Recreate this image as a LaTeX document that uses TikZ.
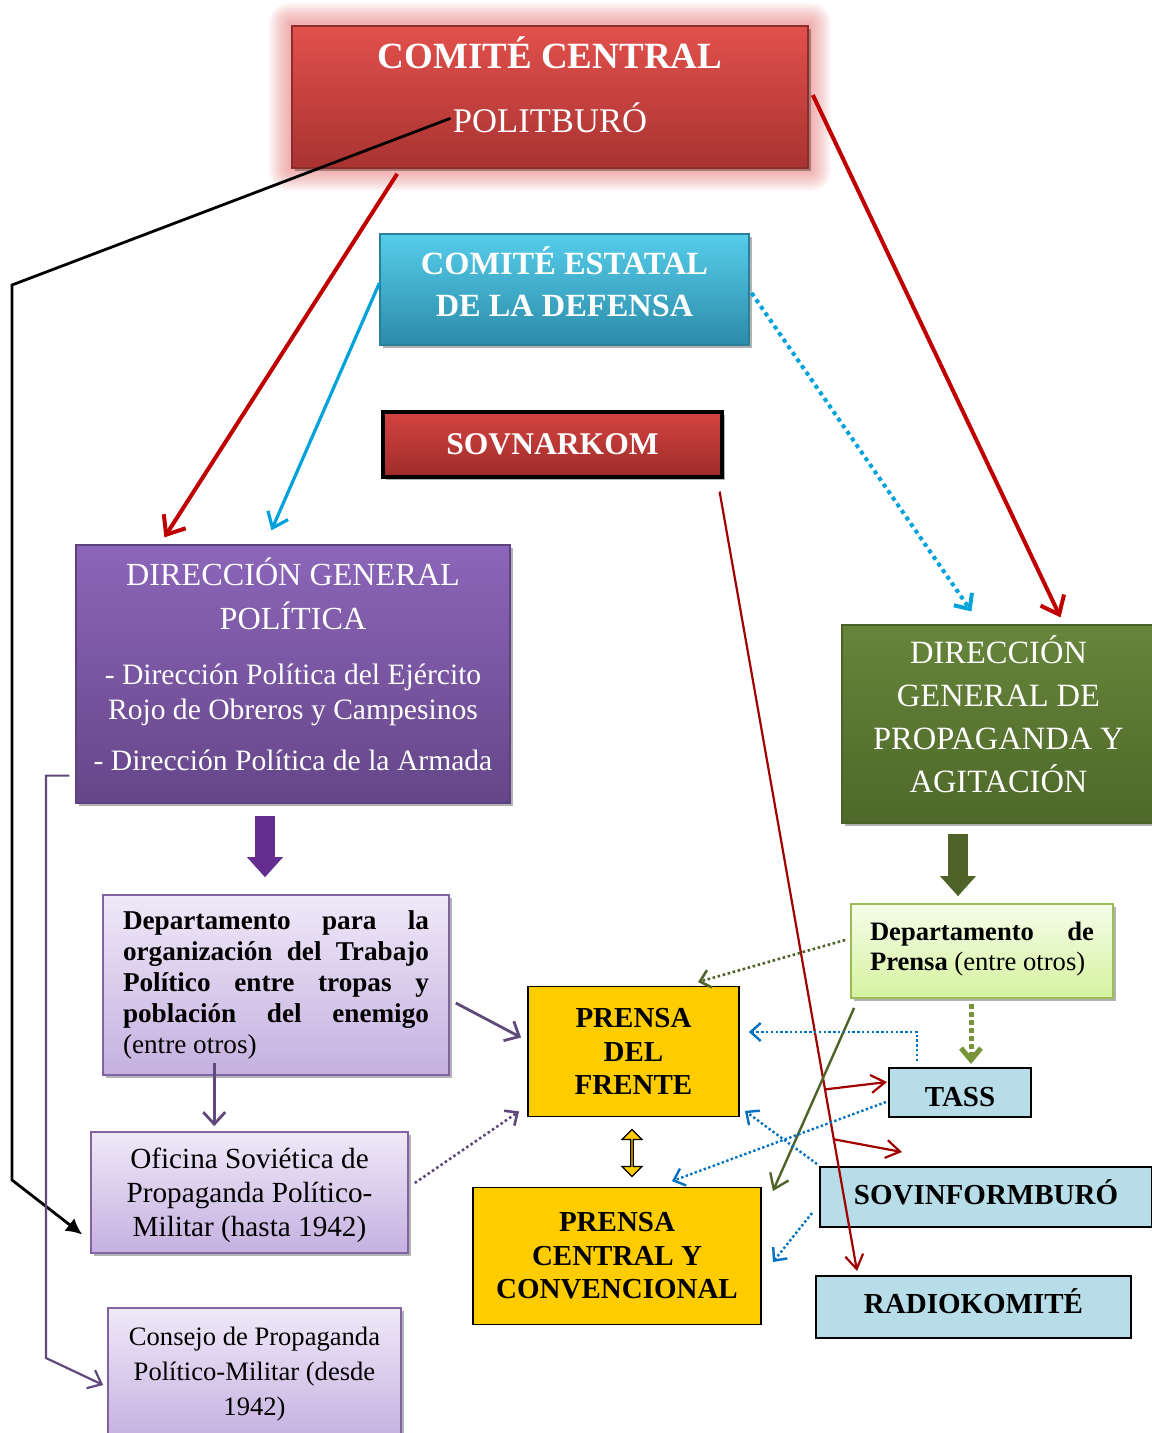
\documentclass[tikz,border=0pt]{standalone}
\usepackage{fontspec}
\setmainfont{Liberation Serif}
\usetikzlibrary{arrows.meta,shadows,shapes.arrows,calc,backgrounds}

\definecolor{cctop}{HTML}{E2504C}
\definecolor{ccbot}{HTML}{A83331}
\definecolor{ccline}{HTML}{8C2D2B}
\definecolor{ccglow}{HTML}{E06060}
\definecolor{cedtop}{HTML}{55CDEB}
\definecolor{cedbot}{HTML}{2C8BA8}
\definecolor{cedline}{HTML}{2A7F99}
\definecolor{sovtop}{HTML}{D4433F}
\definecolor{sovbot}{HTML}{9E2C2A}
\definecolor{dgptop}{HTML}{8C66BA}
\definecolor{dgpbot}{HTML}{654688}
\definecolor{dgpline}{HTML}{5E4280}
\definecolor{dgpatop}{HTML}{67853B}
\definecolor{dgpabot}{HTML}{4E6829}
\definecolor{dgpaline}{HTML}{4A6226}
\definecolor{liltop}{HTML}{EFE9F8}
\definecolor{lilbot}{HTML}{C5B0E0}
\definecolor{lilline}{HTML}{8064A2}
\definecolor{dprtop}{HTML}{F5FDEA}
\definecolor{dprbot}{HTML}{D5F29E}
\definecolor{dprline}{HTML}{9BBB59}
\definecolor{gold}{HTML}{FFCC00}
\definecolor{lblue}{HTML}{B7DDE8}
\definecolor{arrred}{HTML}{C00000}
\definecolor{darkred}{HTML}{A00000}
\definecolor{cyanline}{HTML}{00A2DC}
\definecolor{blockpurp}{HTML}{662D91}
\definecolor{purpline}{HTML}{5F497A}
\definecolor{olive}{HTML}{4F6228}
\definecolor{lolive}{HTML}{77933C}
\definecolor{bluedot}{HTML}{0070C0}

\newcommand{\setfs}[2]{\fontsize{#1}{#2}\selectfont}

\begin{document}
\begin{tikzpicture}[x=0.5pt,y=-0.5pt,
    boxshadow/.style={drop shadow={shadow xshift=1.5pt,shadow yshift=-1.5pt,opacity=.3,fill=black}},
    ccbox/.style={boxshadow,draw=ccline,line width=0.8pt,top color=cctop,bottom color=ccbot,minimum width=258pt,minimum height=71pt},
    cctext/.style={text=white,anchor=base,inner sep=1pt},
    cedbox/.style={boxshadow,draw=cedline,line width=0.6pt,top color=cedtop,bottom color=cedbot,minimum width=184.5pt,minimum height=55.5pt,text=white,text width=180pt,inner sep=0pt,align=flush center,font={\setfs{16.2}{21}\bfseries}},
    sovbox/.style={boxshadow,draw=black,line width=1.6pt,top color=sovtop,bottom color=sovbot,minimum width=169.5pt,minimum height=32.5pt,text=white,font={\setfs{15.8}{19}\bfseries}},
    dgpbox/.style={boxshadow,draw=dgpline,line width=0.6pt,top color=dgptop,bottom color=dgpbot,minimum width=217pt,minimum height=129pt,text=white,text width=214pt,align=flush center,inner sep=0pt},
    dgpabox/.style={boxshadow,draw=dgpaline,line width=0.6pt,top color=dgpatop,bottom color=dgpabot,minimum width=156.5pt,minimum height=99pt,text=white,text width=154pt,inner sep=0pt,align=flush center,font={\setfs{16.25}{21.5}}},
    lilbox/.style={boxshadow,draw=lilline,line width=0.8pt,top color=liltop,bottom color=lilbot,inner sep=0pt},
    dprbox/.style={boxshadow,draw=dprline,line width=0.9pt,top color=dprtop,bottom color=dprbot,inner sep=0pt},
    goldbox/.style={draw=black,line width=0.9pt,fill=gold,align=center,font={\setfs{14.5}{16.75}\bfseries}},
    bluebox/.style={draw=black,line width=1pt,fill=lblue,font={\setfs{14.5}{17}\bfseries}},
    redarrow/.style={draw=arrred,line width=2pt,-{Straight Barb[length=8pt,width=13pt]}},
    cyanarrow/.style={draw=cyanline,line width=1.6pt,-{Straight Barb[length=7pt,width=11pt]}},
    cyandots/.style={draw=cyanline,line width=2pt,dash pattern=on 2pt off 2pt,-{Straight Barb[length=6pt,width=11pt]}},
    thinred/.style={draw=darkred,line width=1.1pt,-{Straight Barb[length=7pt,width=9pt]}},
    purpleline/.style={draw=purpline,line width=1.1pt,-{Straight Barb[length=6pt,width=10pt]}},
    purplearrow/.style={draw=purpline,line width=1.4pt,-{Straight Barb[length=6pt,width=11pt]}},
    purpledots/.style={draw=purpline,line width=1.3pt,dash pattern=on 1.3pt off 1.3pt,-{Straight Barb[length=5pt,width=9pt]}},
    olivedots/.style={draw=olive,line width=1.3pt,dash pattern=on 1.3pt off 1.3pt,-{Straight Barb[length=5pt,width=9pt]}},
    olivebig/.style={draw=lolive,line width=2.5pt,dash pattern=on 2.5pt off 1.5pt,-{Straight Barb[length=6pt,width=10pt]}},
    oliveline/.style={draw=olive,line width=1.2pt,-{Straight Barb[length=7pt,width=10pt]}},
    bluedots/.style={draw=bluedot,line width=1.2pt,dash pattern=on 1.2pt off 1.2pt,-{Straight Barb[length=5pt,width=9pt]}},
    blockarrow/.style={line width=10pt,-{Triangle[length=10pt,width=18pt,line width=0pt]}}
]
\useasboundingbox (0,0) rectangle (1151,1433);

% upper level
\node[ccbox] (cc) at (550,97) {};
\node[cctext,font={\setfs{18.5}{20}\bfseries}] (cct) at (550,69) {COMITÉ CENTRAL};
\node[cctext,font={\setfs{17.3}{20}}] (pb) at (550,133) {POLITBURÓ};
\begin{scope}[on background layer]
\foreach \g in {1,...,10}
  \fill[ccglow,opacity=0.065,rounded corners=\g pt] ([shift={({-1.1pt*\g},{1.1pt*\g})}]cc.north west) rectangle ([shift={({1.1pt*\g},{-1.1pt*\g})}]cc.south east);
\end{scope}

\node[cedbox] (ced) at (564.5,289.5) {COMITÉ ESTATAL\\DE LA DEFENSA\par\kern8pt};
\node[sovbox] (sov) at (552.5,444.5) {SOVNARKOM};

\node[dgpbox] (dgp) at (293,674) {{\setfs{16.1}{22}DIRECCIÓN GENERAL\\POLÍTICA\par}\vskip10pt
  {\setfs{14.8}{17.5}- Dirección Política del Ejército\\Rojo de Obreros y Campesinos\par}\vskip8pt
  {\setfs{14.8}{17.5}- Dirección Política de la Armada\par}\kern10pt};
\node[dgpabox] (dgpa) at (998.5,724) {DIRECCIÓN\\GENERAL DE\\PROPAGANDA Y\\AGITACIÓN\par\kern10pt};

% departments
\node[lilbox,minimum width=173pt,minimum height=90pt,text width=153pt,align=justify,font={\setfs{13.6}{15.5}}] (dpt) at (276,985)
  {\textbf{Departamento para la\linebreak organización del Trabajo\linebreak Político entre tropas y\linebreak población del enemigo} (entre otros)\par};
\node[dprbox,minimum width=131pt,minimum height=47pt,text width=112pt,align=justify,font={\setfs{13.3}{15}}] (dpr) at (982,951)
  {\textbf{Departamento de\linebreak Prensa} (entre otros)\par\kern2pt};
\node[lilbox,minimum width=158.5pt,minimum height=60.5pt,text width=156pt,align=flush center,font={\setfs{14.6}{17}}] (osp) at (249.5,1192.5)
  {Oficina Soviética de\\Propaganda Político-\\Militar (hasta 1942)\par\kern-3pt};
\node[lilbox,minimum width=146.5pt,minimum height=66pt,align=center,font={\setfs{13.3}{17.5}}] (cpm) at (254.5,1374)
  {Consejo de Propaganda\\Político-Militar (desde\\1942)};

% press
\node[goldbox,minimum width=105.5pt,minimum height=65pt] (pf) at (633.5,1051.5) {PRENSA\\DEL\\FRENTE};
\node[goldbox,minimum width=144pt,minimum height=68.5pt] (pcc) at (617,1256) {PRENSA\\CENTRAL Y\\CONVENCIONAL};
\node[double arrow,draw=black,line width=0.6pt,fill=gold,shape border rotate=90,minimum height=23.5pt,minimum width=10pt,inner sep=0pt,double arrow head extend=2pt] (dbl) at (632,1153) {};

\node[bluebox,minimum width=71pt,minimum height=24.5pt,text height=14pt,text depth=0pt] (tass) at (960,1092.5) {TASS};
\node[bluebox,minimum width=166pt,minimum height=30pt,text height=10pt,text depth=2.4pt] (sib) at (986,1197) {SOVINFORMBURÓ};
\node[bluebox,minimum width=157.5pt,minimum height=31pt,text height=9.5pt,text depth=3pt] (rad) at (973.5,1307) {RADIOKOMITÉ};

% connectors
\draw[redarrow] ([xshift=53pt,yshift=-2.5pt]cc.south west) -- ([xshift=44.5pt,yshift=3.5pt]dgp.north west);
\draw[redarrow] ([xshift=2pt,yshift=1pt]cc.east) -- ([xshift=31pt,yshift=3.5pt]dgpa.north);
\draw[cyanarrow] ([yshift=3.25pt]ced.west) -- ([xshift=98pt,yshift=7pt]dgp.north west);
\draw[cyandots] ([xshift=1pt,yshift=-1.75pt]ced.east) -- ([xshift=65pt,yshift=6.5pt]dgpa.north west);

\coordinate (bk1) at (12,285);
\coordinate (bk2) at (12,1180);
\draw[line width=1.4pt,-{Latex[length=8pt,width=8pt]}] (pb.west) -- (bk1) -- (bk2) -- ([xshift=-4pt,yshift=-21pt]osp.west);

\coordinate (sv1) at ([xshift=-2pt,yshift=-6.5pt]sov.south east);
\coordinate (rd1) at ([xshift=21pt,yshift=2pt]rad.north west);
\draw[thinred] (sv1) -- (rd1);
\draw[thinred] ($(sv1)!0.767!(rd1)$) -- ([xshift=-0.5pt,yshift=5.25pt]tass.west);
\draw[thinred] ($(sv1)!0.831!(rd1)$) -- ([xshift=41.5pt,yshift=7pt]sib.north west);

\coordinate (pl1) at (46,1358);
\draw[purpleline] ([xshift=-3pt,yshift=14pt]dgp.south west) -| (pl1) -- ([xshift=-2pt,yshift=-5.5pt]cpm.west);
\draw[purplearrow] ([xshift=56pt,yshift=6.5pt]dpt.south west) -- ([xshift=62pt,yshift=2.5pt]osp.north west);
\draw[purplearrow] ([xshift=3pt,yshift=-9pt]dpt.east) -- ([xshift=-3pt,yshift=7pt]pf.west);
\draw[purpledots] ([xshift=3pt,yshift=4.75pt]osp.east) -- ([xshift=-4pt,yshift=3pt]pf.south west);

\draw[blockarrow,blockpurp] ([xshift=-14pt,yshift=-6pt]dgp.south) -- ([xshift=-5.5pt,yshift=8.5pt]dpt.north);
\draw[blockarrow,olive] ([xshift=-20.25pt,yshift=-5pt]dgpa.south) -- ([xshift=-12pt,yshift=3.5pt]dpr.north);

\draw[olivedots] ([xshift=-2.5pt,yshift=5.5pt]dpr.west) -- ([xshift=32.25pt,yshift=1.75pt]pf.north);
\draw[olivebig] ([xshift=-5.5pt,yshift=-2.5pt]dpr.south) -- ([xshift=5.5pt,yshift=1.5pt]tass.north);
\draw[oliveline] ([xshift=2pt,yshift=-4.5pt]dpr.south west) -- ([xshift=5.5pt,yshift=-2.25pt]pcc.north east);

\draw[bluedots] ([xshift=14.5pt,yshift=3pt]tass.north west) |- ([xshift=4.5pt,yshift=9.75pt]pf.east);
\draw[bluedots] ([xshift=-1pt,yshift=-4.75pt]tass.west) -- ([xshift=27.5pt,yshift=2.75pt]pcc.north);
\draw[bluedots] ([xshift=-1pt,yshift=1pt]sib.north west) -- ([xshift=2.5pt,yshift=3.25pt]pf.south east);
\draw[bluedots] ([xshift=-3.5pt,yshift=-8pt]sib.west) -- ([xshift=5.5pt,yshift=-3pt]pcc.east);
\end{tikzpicture}
\end{document}
